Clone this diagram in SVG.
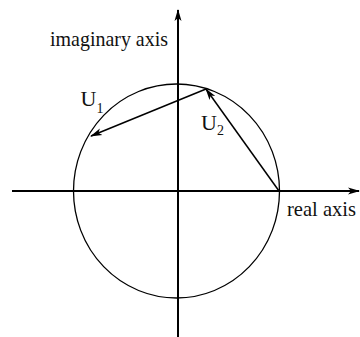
<svg xmlns="http://www.w3.org/2000/svg" width="360" height="337" viewBox="0 0 360 337">
<style>
.t{font-family:'Liberation Serif','Times New Roman',Times,serif;fill:#111}
.ax{stroke:#000;stroke-width:2;fill:none}
.v{stroke:#000;stroke-width:1.5;fill:none}
</style>
<defs>
<marker id="ah" viewBox="0 0 12 8" refX="11" refY="4" markerWidth="12" markerHeight="8" markerUnits="userSpaceOnUse" orient="auto">
<path d="M0,0.5 L12,4 L0,7.5 L3,4 Z" fill="#000"/>
</marker>
</defs>
<rect width="360" height="337" fill="#fff"/>
<g id="circle"><ellipse cx="176.5" cy="191" rx="103" ry="107" fill="none" stroke="#000" stroke-width="1.3"/></g>
<g id="connectors">
<line class="ax" x1="12" y1="191" x2="359" y2="191" marker-end="url(#ah)"/>
<line class="ax" x1="178" y1="337" x2="178" y2="10" marker-end="url(#ah)"/>
<line class="v" x1="279" y1="191" x2="206" y2="89" marker-end="url(#ah)"/>
<line class="v" x1="206" y1="89" x2="91" y2="136" marker-end="url(#ah)"/>
</g>
<g id="labels">
<text class="t" x="50" y="46" font-size="22" textLength="118" lengthAdjust="spacingAndGlyphs">imaginary axis</text>
<text class="t" x="287" y="216" font-size="22" textLength="69" lengthAdjust="spacingAndGlyphs">real axis</text>
<text class="t" x="80.5" y="106" font-size="22">U<tspan font-size="14" dy="7">1</tspan></text>
<text class="t" x="201" y="130" font-size="22">U<tspan font-size="14" dy="5">2</tspan></text>
</g>
</svg>
